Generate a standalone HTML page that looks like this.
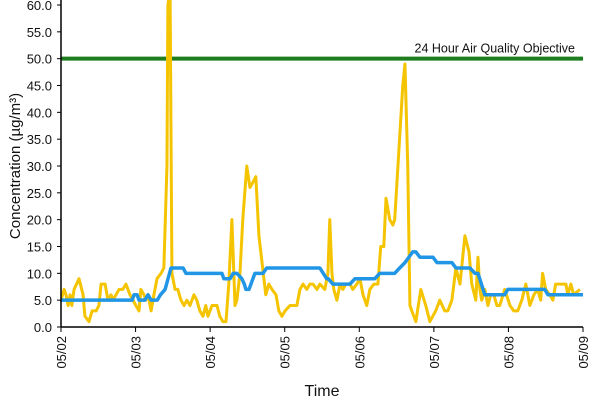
<!DOCTYPE html>
<html><head><meta charset="utf-8"><style>
body{margin:0;background:#fff;font-family:"Liberation Sans",sans-serif}
svg text{font-family:"Liberation Sans",sans-serif;fill:#111}
</style></head><body>
<svg id="chart" width="600" height="400" viewBox="0 0 600 400" xmlns="http://www.w3.org/2000/svg"></svg>
<script>
const dayLabels=["05/02","05/03","05/04","05/05","05/06","05/07","05/08","05/09"];
const yTicks=[0,5,10,15,20,25,30,35,40,45,50,55,60];
const objectiveValue=50;
const hourlyTimes=[0,1,1.6,2.3,2.9,3.5,4.2,5.8,7.1,7.7,9,10,11.3,12.2,12.9,14.2,15.1,16.1,16.7,17.7,18.7,19.9,20.9,22.2,23.2,24.1,25.1,25.7,26.7,27.3,28,29,29.9,30.9,32.2,33.1,34.1,34.4,35.1,35.7,36.7,37.6,38.6,39.6,40.5,41.5,42.8,43.7,44.7,45.7,46.6,47.3,48.6,50.2,51.1,52.1,53.1,54,55,56,56.6,57.6,58.5,59.8,60.8,61.8,62.7,63.7,64.7,65.9,66.9,67.9,69.2,70.1,71.1,72.1,73.7,75.9,76.9,77.9,79.1,80.1,81.1,82.4,83.3,84.9,85.9,86.5,87.2,87.8,88.8,89.8,90.7,91.7,93,93.9,95.2,96.2,97.2,98.4,99.4,100.7,102,102.9,103.9,104.6,105.8,106.8,107.4,110,110.7,111.6,112.3,112.9,114.2,115.8,117.4,118.7,120.6,121.9,123.5,124.5,125.8,127.1,128.4,130,131.3,132.2,133.5,134.2,134.8,135.4,136.4,137.4,138.3,139.3,140.3,141.2,142.8,144.5,145.7,147,148.3,149.6,150.9,152.2,153.4,154.4,155,156,157.3,158.3,159.2,160.2,161.5,162.5,163.1,164.1,165,167,168];
const hourlyValues=[5,7,6,4,6,4,7,9,6,2,1,3,3,4,8,8,5,6,5,6,7,7,8,6,5,4,3,7,6,5,6,3,6,9,10,11,30,60,63,10,7,7,5,4,5,4,6,5,3,2,4,2,4,4,2,1,1,8,20,4,5,10,20,30,26,27,28,17,12,6,8,7,6,3,2,3,4,4,7,8,7,8,8,7,8,7,10,20,10,7,5,8,7,8,8,7,8,9,6,4,7,8,8,15,15,24,20,19,20,45,49,30,4,3,1,7,4,1,3,5,3,3,5,11,8,17,14,8,5,13,7,5,7,4,6,6,4,4,7,4,3,3,5,8,4,6,7,5,10,7,6,5,8,8,8,8,6,8,6,7];
const avgTimes=[0,22.9,23.5,24.5,25.1,27,28,29,31,32,33.5,35.4,39.3,40.2,51.8,52.4,54.4,55.4,56.6,58.2,59,59.5,60.5,62.4,65,66.2,83.3,85.5,86,87.5,93,94.6,101,102.6,107.4,109,110.7,113.2,114.2,115.5,119.7,121,125.8,127.1,131.6,133.2,134.2,136.4,142.8,143.8,155.7,156.7,168];
const avgValues=[5,5,6,6,5,5,6,5,5,6,7,11,11,10,10,9,9,10,10,9,8,7,7,10,10,11,11,9,9,8,8,9,9,10,10,11,12,14,14,13,13,12,12,11,11,10,10,6,6,7,7,6,6];

const svg=document.getElementById('chart');
const NS='http://www.w3.org/2000/svg';
const X0=61,X1=583,Y0=327,Y1=5;
const xScale=h=>X0+(X1-X0)*h/168;
const yScale=v=>Y0-(Y0-Y1)*v/60;
function mk(tag,attrs){const e=document.createElementNS(NS,tag);for(const k in attrs)e.setAttribute(k,attrs[k]);svg.appendChild(e);return e;}

// y ticks & labels
yTicks.forEach(v=>{
  const t=mk('line',{x1:X0-4,x2:X0,y1:yScale(v),y2:yScale(v),stroke:'#000','stroke-width':1});
  
  
  const l=mk('text',{x:52,y:yScale(v)+5,'text-anchor':'end','font-size':13});
  l.textContent=v.toFixed(1);
  
  
});
// x ticks
dayLabels.forEach((d,i)=>{
  const x=xScale(i*24);
  const t=mk('line',{x1:x,x2:x,y1:Y0,y2:Y0+5,stroke:'#000','stroke-width':1});
  
  
  const l=mk('text',{x:0,y:0,'text-anchor':'end','font-size':13,transform:`translate(${x+5},${Y0+9}) rotate(-90)`});
  l.textContent=d;
  
  
});
// objective line
const obj=mk('line',{x1:X0,x2:X1,y1:yScale(objectiveValue),y2:yScale(objectiveValue),stroke:'#1e7d1e','stroke-width':4});


const objl=mk('text',{x:575,y:yScale(objectiveValue)-6,'text-anchor':'end','font-size':12.5});
objl.textContent='24 Hour Air Quality Objective';



const clip=mk('clipPath',{id:'pc'});
const cr=document.createElementNS(NS,'rect');
cr.setAttribute('x',X0);cr.setAttribute('y',0);cr.setAttribute('width',X1-X0+3);cr.setAttribute('height',Y0);
clip.appendChild(cr);

const hp=mk('polyline',{points:hourlyTimes.map((t,i)=>xScale(t)+','+yScale(hourlyValues[i])).join(' '),fill:'none',stroke:'#f5c400','stroke-width':3,'stroke-linejoin':'round','clip-path':'url(#pc)'});


const ap=mk('polyline',{points:avgTimes.map((t,i)=>xScale(t)+','+yScale(avgValues[i])).join(' '),fill:'none',stroke:'#2196e6','stroke-width':3.5,'stroke-linejoin':'round'});



// axes
const ya=mk('line',{x1:X0,x2:X0,y1:0,y2:Y0,stroke:'#000','stroke-width':1.5});


const xa=mk('line',{x1:X0,x2:X1,y1:Y0,y2:Y0,stroke:'#000','stroke-width':1.5});



const xt=mk('text',{x:322,y:396,'text-anchor':'middle','font-size':16});
xt.textContent='Time';


const yt=mk('text',{x:0,y:0,'text-anchor':'middle','font-size':15,transform:'translate(20,166) rotate(-90)'});
yt.textContent='Concentration (µg/m³)';


</script>
</body></html>
